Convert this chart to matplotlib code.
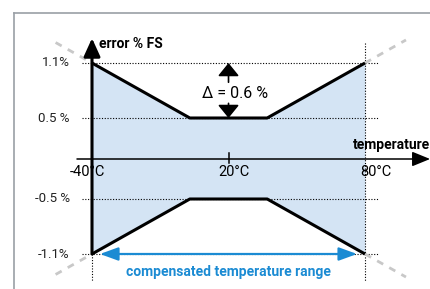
import numpy as np
import matplotlib
matplotlib.use("Agg")
import matplotlib.pyplot as plt
from matplotlib.lines import Line2D

# --- DATA ---
temps = [-40, 3, 37, 80]               # deg C, corner points of the error band
upper = [1.1, 0.5, 0.5, 1.1]           # % FS
lower = [-1.1, -0.5, -0.5, -1.1]
ytick_vals = [1.1, 0.5, -0.5, -1.1]
ytick_labels = ["1.1%", "0.5 %", "-0.5 %", "-1.1%"]
xtick_vals = [-40, 20, 80]
xtick_labels = ["-40°C", "20°C", "80°C"]
delta_label = "Δ = 0.6 %"
range_label = "compensated temperature range"

# --- STYLE ---
FILL = "#d4e4f4"
BLUE = "#1b8bd3"
DASH = "#c8c8c8"
FRAME = "#9aa0a6"
plt.rcParams["font.family"] = ["Roboto", "DejaVu Sans"]


# schematic y axis: inner band drawn a bit tighter than the outer band
yk = np.array([-4, -1.1, -0.5, 0, 0.5, 1.1, 4])
pk = np.array([-95 - 2.9 * 91.7, -95, -40, 0, 41, 96, 96 + 2.9 * 91.7])


def fwd(y):
    return np.interp(y, yk, pk)


def inv(p):
    return np.interp(p, pk, yk)


fig = plt.figure(figsize=(4.31, 2.89), dpi=100)
ax = fig.add_axes([0, 0, 1, 1])
ax.set_yscale("function", functions=(fwd, inv))
ax.set_xlim(-80.44, 109.0)
ax.set_ylim(inv(-130), inv(159))
ax.axis("off")

# frame
fig.add_artist(Line2D([14 / 431, 14 / 431], [0, 1 - 13 / 289], color=FRAME, lw=1.2))
fig.add_artist(Line2D([14 / 431, 1], [1 - 13 / 289, 1 - 13 / 289], color=FRAME, lw=1.2))

# band
ax.fill_between(temps, lower, upper, color=FILL, lw=0, zorder=1)

# dotted guides
for yv in ytick_vals:
    ax.plot([-44.4, 85.7], [yv, yv], color="black", lw=0.8, ls=(0, (1, 1.5)), zorder=2)
ax.plot([80, 80], [1.315, -1.39], color="black", lw=0.8, ls=(0, (1, 1.5)), zorder=2)
ax.plot([-40, -40], [-1.1, -1.39], color="black", lw=0.8, ls=(0, (1, 1.5)), zorder=2)

# dashed extensions of the sloped edges
for curve in (upper, lower):
    s_left = (curve[1] - curve[0]) / (temps[1] - temps[0])
    s_right = (curve[3] - curve[2]) / (temps[3] - temps[2])
    xl = -56
    xr = 98
    ax.plot([xl, temps[0]], [curve[0] + s_left * (xl - temps[0]), curve[0]],
            color=DASH, lw=2, ls=(0, (2.5, 2.5)), zorder=2)
    ax.plot([temps[3], xr], [curve[3], curve[3] + s_right * (xr - temps[3])],
            color=DASH, lw=2, ls=(0, (2.5, 2.5)), zorder=2)

# band edges
ax.plot(temps, upper, color="black", lw=2.2, solid_capstyle="butt", zorder=4)
ax.plot(temps, lower, color="black", lw=2.2, solid_capstyle="butt", zorder=4)

# x axis
ax.annotate("", xy=(108.6, 0), xytext=(-46.6, 0),
            arrowprops=dict(arrowstyle="-|>,head_length=1.1,head_width=0.45",
                            mutation_scale=10, color="black", lw=1.1,
                            shrinkA=0, shrinkB=0), zorder=5)
ax.plot([20, 20], [-0.05, 0.07], color="black", lw=1.1, zorder=5)
# y axis
ax.annotate("", xy=(-40, 1.37), xytext=(-40, -1.1),
            arrowprops=dict(arrowstyle="-|>,head_length=1.1,head_width=0.5",
                            mutation_scale=10, color="black", lw=2.2,
                            shrinkA=0, shrinkB=0), zorder=5)

# tick labels
x_off = [-3, 4, 8]
for xv, lab, dx in zip(xtick_vals, xtick_labels, x_off):
    ax.annotate(lab, xy=(xv, 0), xytext=(dx, -9), textcoords="offset points",
                ha="center", va="center", fontsize=10.5, zorder=6)
for yv, lab in zip(ytick_vals, ytick_labels):
    ax.annotate(lab, xy=(-40, yv), xytext=(-16, 0), textcoords="offset points",
                ha="right", va="center", fontsize=9.5, color="#222222")

ax.annotate("error % FS", xy=(-40, 1.307), xytext=(5, 0), textcoords="offset points",
            ha="left", va="center", fontsize=10, fontweight="bold")
ax.annotate("temperature", xy=(108.6, 0), xytext=(0, 10), textcoords="offset points",
            ha="right", va="center", fontsize=10, fontweight="bold")

# delta annotation
x_mid = (temps[1] + temps[2]) / 2
ax.annotate("", xy=(x_mid, upper[0]), xytext=(x_mid, 0.89),
            arrowprops=dict(arrowstyle="-|>,head_length=0.8,head_width=0.65",
                            mutation_scale=10, color="black", lw=1.2,
                            shrinkA=0, shrinkB=0), zorder=5)
ax.annotate("", xy=(x_mid, upper[1]), xytext=(x_mid, 0.66),
            arrowprops=dict(arrowstyle="-|>,head_length=0.8,head_width=0.65",
                            mutation_scale=10, color="black", lw=1.2,
                            shrinkA=0, shrinkB=0), zorder=5)
ax.annotate(delta_label, xy=(x_mid, 0.77), xytext=(5, 0), textcoords="offset points",
            ha="center", va="center", fontsize=11.5)

# compensated range
ax.annotate("", xy=(temps[0] + 3.5, lower[0]), xytext=(temps[3] - 3.5, lower[0]),
            arrowprops=dict(arrowstyle="<|-|>,head_length=1.1,head_width=0.4",
                            mutation_scale=10, color=BLUE, lw=1.6,
                            shrinkA=0, shrinkB=0), zorder=5)
ax.annotate(range_label, xy=(x_mid, lower[0]), xytext=(0, -13), textcoords="offset points",
            ha="center", va="center", fontsize=10, fontweight="bold", color=BLUE)

fig.savefig("out.png", dpi=100)
